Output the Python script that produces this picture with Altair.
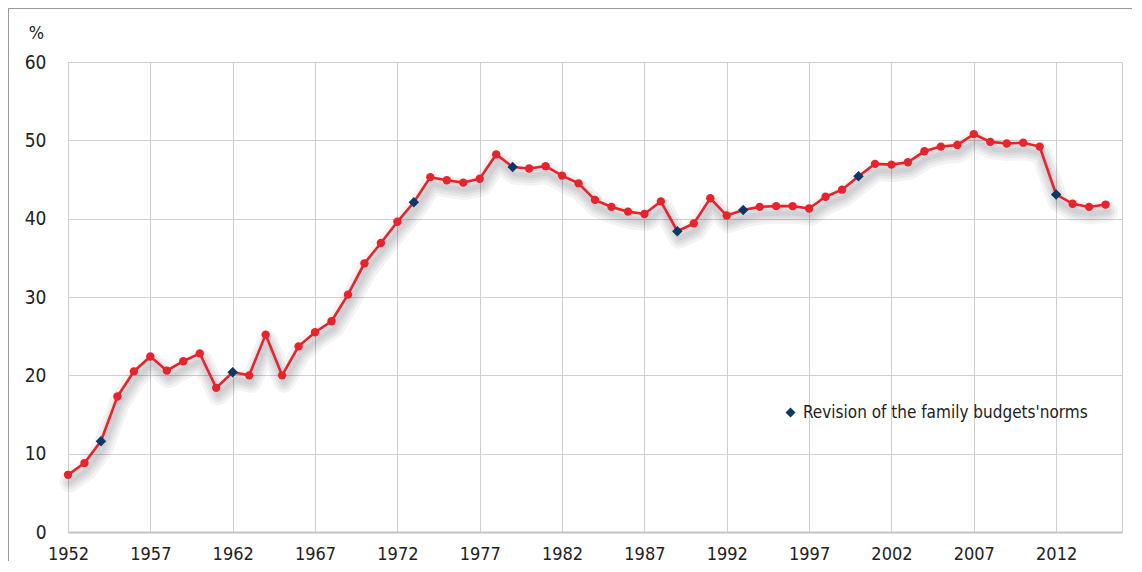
import altair as alt
import pandas as pd

years = list(range(1952, 2016))
values = [7.3, 8.8, 11.6, 17.3, 20.5, 22.4, 20.6, 21.8, 22.8, 18.4,
          20.4, 20.0, 25.2, 20.0, 23.7, 25.5, 26.9, 30.3, 34.3, 36.9,
          39.6, 42.1, 45.3, 44.9, 44.6, 45.1, 48.2, 46.6, 46.4, 46.7,
          45.5, 44.5, 42.4, 41.5, 40.9, 40.6, 42.2, 38.4, 39.4, 42.6,
          40.4, 41.1, 41.5, 41.6, 41.6, 41.3, 42.8, 43.7, 45.4, 47.0,
          46.9, 47.2, 48.6, 49.2, 49.4, 50.8, 49.8, 49.6, 49.7, 49.2,
          43.1, 41.9, 41.5, 41.8]
revision_years = [1954, 1962, 1973, 1979, 1989, 1993, 2000, 2012]
x_ticks = list(range(1952, 2013, 5))
y_ticks = [0, 10, 20, 30, 40, 50, 60]
legend_label = "Revision of the family budgets'norms"

df = pd.DataFrame({"year": years, "value": values})
df["revision"] = df["year"].isin(revision_years)
df["series"] = legend_label

FONT = "'DejaVu Sans Condensed', 'Liberation Sans Narrow', 'Liberation Sans', sans-serif"
RED = "#e8232b"
NAVY = "#0c3865"

x = alt.X("year:Q", scale=alt.Scale(domain=[1952, 2016], nice=False, zero=False),
          axis=alt.Axis(values=x_ticks, format="d", title=None, grid=True,
                        ticks=False, domain=True, domainColor="#c4c4c4", domainWidth=2,
                        labelPadding=13, labelFontSize=18, labelColor="#222222",
                        labelFont=FONT, labelFlush=False, labelBound=False,
                        gridColor="#cfcfcf", gridWidth=1))
y = alt.Y("value:Q", scale=alt.Scale(domain=[0, 60], nice=False),
          axis=alt.Axis(values=y_ticks, title="%", titleAngle=0, titleX=-32, titleY=-20,
                        titleFont=FONT, titleFontSize=18, titleFontWeight="normal",
                        titleColor="#222222", titleAlign="center",
                        ticks=False, domain=False, labelPadding=22, labelFontSize=19,
                        labelColor="#222222", labelFont=FONT, labelFlush=False,
                        gridColor="#cfcfcf", gridWidth=1))

base = alt.Chart(df)

shadows = [
    base.mark_line(color="#1a1a30", opacity=0.05, strokeWidth=w, xOffset=2, yOffset=7,
                   strokeCap="round", strokeJoin="round").encode(x=x, y=y)
    for w in (5, 10, 15, 21)
]

line = base.mark_line(color=RED, strokeWidth=2.6).encode(x=x, y=y)
dots = base.transform_filter("!datum.revision").mark_circle(
    color=RED, size=70, opacity=1).encode(x=x, y=y)
diamonds = base.transform_filter("datum.revision").mark_point(
    shape="diamond", filled=True, size=110, opacity=1).encode(
    x=x, y=y,
    color=alt.Color("series:N", scale=alt.Scale(range=[NAVY]),
                    legend=alt.Legend(title=None, orient="none", legendX=714, legendY=342,
                                      labelFont=FONT, labelFontSize=17, labelColor="#222222",
                                      symbolType="diamond", symbolSize=100,
                                      labelLimit=400)))

frame_top = base.mark_rule(color="#9a9a9a", strokeWidth=1).encode(
    x=alt.value(-60), x2=alt.value(1064), y=alt.value(-53.5))
frame_left = base.mark_rule(color="#9a9a9a", strokeWidth=1).encode(
    x=alt.value(-59.5), y=alt.value(-54), y2=alt.value(499))

chart = alt.layer(*shadows, line, dots, diamonds, frame_top, frame_left).properties(
    width=1054, height=470,
    autosize=alt.AutoSizeParams(type="none"),
    padding={"left": 60, "top": 54, "right": 12, "bottom": 32},
).configure_view(stroke="#cfcfcf", strokeWidth=1)

chart.save("out.html", embed_options={"renderer": "svg", "actions": False})
